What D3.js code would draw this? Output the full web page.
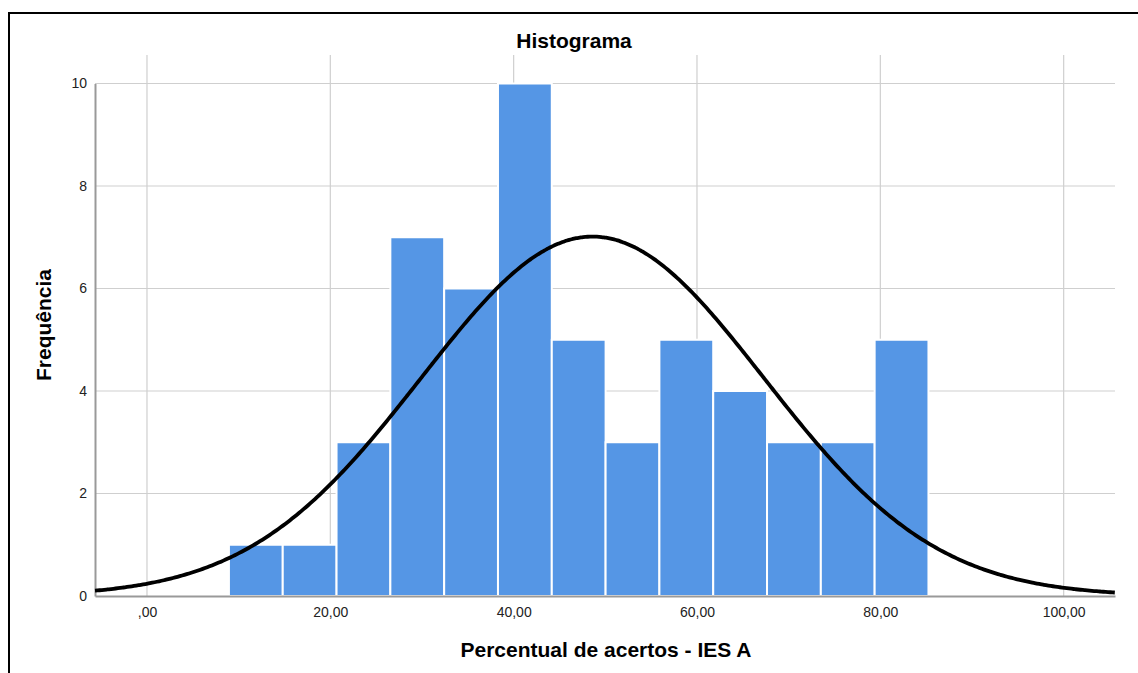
<!DOCTYPE html>
<html>
<head>
<meta charset="utf-8">
<script src="https://cdn.jsdelivr.net/npm/d3@7"></script>
<style>
  body { margin: 0; background: #fff; }
  svg { display: block; font-family: Arial, "Liberation Sans", sans-serif; }
</style>
</head>
<body>
<div id="hist"></div>
<script>
// bins of the histogram (lower edges), counts
const binStart = 8.94
const binWidth = 5.87
const counts = [1, 1, 3, 7, 6, 10, 5, 3, 5, 4, 3, 3, 5]
const xTicks = [0, 20, 40, 60, 80, 100]
const yTicks = [0, 2, 4, 6, 8, 10]
// normal curve parameters
const mean = 48.6
const sd = 18.7
const nObs = d3.sum(counts)

const W = 1138, H = 673
const margin = {left: 95, right: 23, top: 55, bottom: 77}
const width = W - margin.left - margin.right
const height = H - margin.top - margin.bottom

const svg = d3.select("#hist")
  .append("svg")
  .attr("width", W)
  .attr("height", H)

// frame
svg.append("path")
  .attr("d", `M9,${H} L9,13 L${W},13`)
  .attr("fill", "none")
  .attr("stroke", "#000")
  .attr("stroke-width", 2)

const g = svg.append("g")
  .attr("transform", `translate(${margin.left},${margin.top})`)

const x = d3.scaleLinear().domain([-5.67, 105.6]).range([0, width])
const y = d3.scaleLinear().domain([0, 10]).range([height, height - 10 * 51.25])

// gridlines
g.selectAll("vgrid")
  .data(xTicks)
  .enter()
  .append("line")
  .attr("x1", d => x(d))
  .attr("x2", d => x(d))
  .attr("y1", 0)
  .attr("y2", height)
  .attr("stroke", "#cfcfcf")
  .attr("stroke-width", 1.2)

g.selectAll("hgrid")
  .data(yTicks.filter(d => d > 0))
  .enter()
  .append("line")
  .attr("x1", 0)
  .attr("x2", width)
  .attr("y1", d => y(d))
  .attr("y2", d => y(d))
  .attr("stroke", "#cfcfcf")
  .attr("stroke-width", 1.2)

// bars
g.selectAll("bars")
  .data(counts)
  .enter()
  .append("rect")
  .attr("x", (d, i) => x(binStart + i * binWidth))
  .attr("width", (d, i) => x(binStart + (i + 1) * binWidth) - x(binStart + i * binWidth))
  .attr("y", d => y(d))
  .attr("height", d => y(0) - y(d))
  .attr("fill", "#5596e5")
  .attr("stroke", "#fff")
  .attr("stroke-width", 2)

// axes
const yAxis = g.append("g")
  .call(d3.axisLeft(y).tickValues(yTicks).tickSize(0).tickPadding(8))
yAxis.select(".domain").attr("stroke", "#999").attr("stroke-width", 2)
yAxis.selectAll("text")
  .style("font-size", "14px")
  .style("font-family", "Arial, 'Liberation Sans', sans-serif")
  .attr("fill", "#222")

const xAxis = g.append("g")
  .attr("transform", `translate(0,${height})`)
  .call(d3.axisBottom(x).tickValues(xTicks).tickSize(0).tickPadding(11)
    .tickFormat(d => d === 0 ? ",00" : d + ",00"))
xAxis.select(".domain").attr("stroke", "#999").attr("stroke-width", 2)
xAxis.selectAll("text")
  .style("font-size", "14px")
  .style("font-family", "Arial, 'Liberation Sans', sans-serif")
  .attr("fill", "#222")

// normal curve
const xs = d3.range(-5.67, 105.61, 0.25)
const curve = d3.line()
  .x(d => x(d))
  .y(d => y(nObs * binWidth / (sd * Math.sqrt(2 * Math.PI)) * Math.exp(-0.5 * ((d - mean) / sd) ** 2)))
  .curve(d3.curveBasis)

g.append("path")
  .datum(xs)
  .attr("d", curve)
  .attr("fill", "none")
  .attr("stroke", "#000")
  .attr("stroke-width", 3.8)

// labels
svg.append("text")
  .attr("x", 574)
  .attr("y", 48)
  .attr("text-anchor", "middle")
  .style("font-size", "21px")
  .style("font-weight", "bold")
  .text("Histograma")

svg.append("text")
  .attr("x", 606)
  .attr("y", 657)
  .attr("text-anchor", "middle")
  .style("font-size", "21px")
  .style("font-weight", "bold")
  .text("Percentual de acertos - IES A")

svg.append("text")
  .attr("transform", "translate(51,325) rotate(-90)")
  .attr("text-anchor", "middle")
  .style("font-size", "21px")
  .style("font-weight", "bold")
  .text("Frequência")
</script>
</body>
</html>
